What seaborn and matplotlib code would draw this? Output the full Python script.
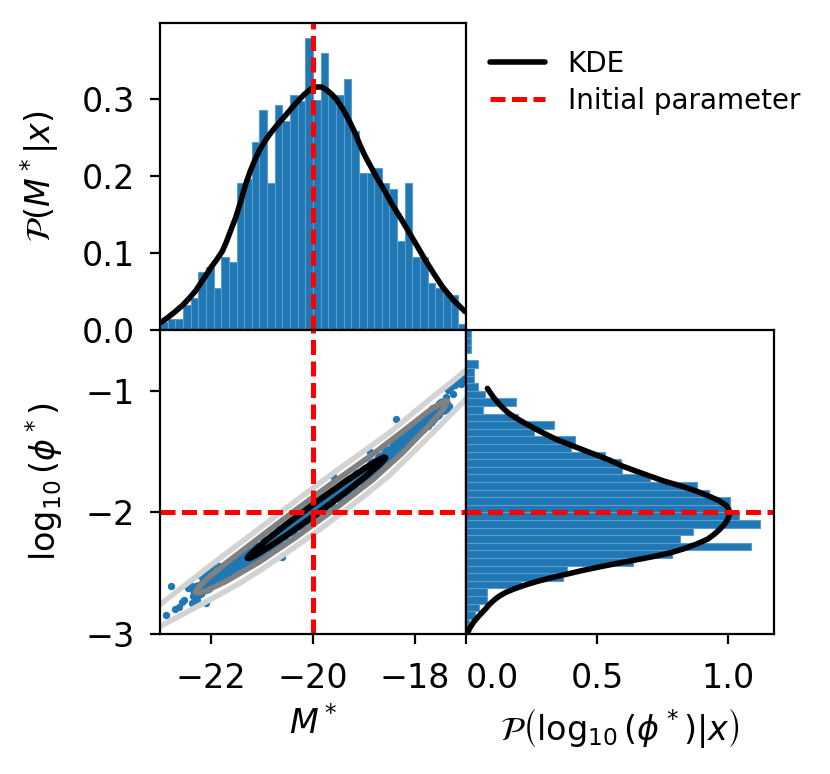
import matplotlib
matplotlib.use("Agg")
import matplotlib.pyplot as plt
from matplotlib.lines import Line2D
import numpy as np
import pandas as pd
import seaborn as sns

# --- marginal histogram of M* (density per bin, 40 bins from -23 to -17) ---
m_edges = np.linspace(-23.0, -17.0, 41)
m_hist = [0.010, 0.014, 0.014, 0.033, 0.042, 0.075, 0.082, 0.055, 0.095, 0.088,
          0.190, 0.196, 0.244, 0.285, 0.190, 0.292, 0.271, 0.305, 0.297, 0.379,
          0.298, 0.359, 0.305, 0.305, 0.325, 0.258, 0.203, 0.203, 0.210, 0.190,
          0.183, 0.116, 0.190, 0.095, 0.095, 0.061, 0.055, 0.048, 0.046, 0.008]

# --- marginal histogram of log10(phi*) (40 bins from -3 to -0.5) ---
phi_edges = np.linspace(-3.0, -0.5, 41)
phi_hist = [0.005, 0.012, 0.035, 0.050, 0.080, 0.080, 0.211, 0.370, 0.387, 0.639,
            0.785, 1.088, 0.817, 0.866, 1.120, 1.043, 1.000, 1.008, 0.928, 0.881,
            0.702, 0.594, 0.590, 0.530, 0.402, 0.415, 0.259, 0.336, 0.200, 0.064,
            0.192, 0.072, 0.047, 0.031, 0.031, 0.047, 0.000, 0.018, 0.018, 0.018]

# --- KDE curves ---
kde_m_x = [-22.98, -22.85, -22.70, -22.56, -22.43, -22.30, -22.20, -22.09, -21.98,
           -21.88, -21.78, -21.70, -21.62, -21.52, -21.42, -21.33, -21.23, -21.13,
           -21.05, -20.97, -20.89, -20.81, -20.70, -20.58, -20.49, -20.40, -20.28,
           -20.16, -20.05, -19.93, -19.83, -19.73, -19.64, -19.54, -19.41, -19.28,
           -19.18, -19.08, -18.99, -18.90, -18.76, -18.60, -18.45, -18.28, -18.11,
           -17.95, -17.80, -17.63, -17.46, -17.25, -17.02]
kde_m_y = [0.010, 0.016, 0.024, 0.032, 0.041, 0.051, 0.061, 0.072, 0.083,
           0.092, 0.102, 0.114, 0.128, 0.145, 0.166, 0.187, 0.206, 0.222,
           0.233, 0.242, 0.250, 0.257, 0.266, 0.275, 0.282, 0.289, 0.298,
           0.306, 0.312, 0.315, 0.315, 0.311, 0.306, 0.299, 0.286, 0.270,
           0.256, 0.240, 0.227, 0.216, 0.199, 0.181, 0.163, 0.145, 0.126,
           0.108, 0.091, 0.073, 0.056, 0.039, 0.024]

kde_phi_y = [-0.98, -1.01, -1.05, -1.09, -1.13, -1.18, -1.22, -1.26, -1.31, -1.35,
             -1.40, -1.44, -1.49, -1.53, -1.57, -1.62, -1.66, -1.70, -1.74, -1.78,
             -1.82, -1.86, -1.90, -1.94, -1.97, -2.00, -2.03, -2.06, -2.10, -2.14,
             -2.18, -2.22, -2.26, -2.30, -2.33, -2.36, -2.39, -2.42, -2.45, -2.48,
             -2.51, -2.54, -2.57, -2.60, -2.63, -2.66, -2.69, -2.72, -2.76, -2.80,
             -2.85, -2.90, -2.95, -3.00]
kde_phi_x = [0.082, 0.091, 0.104, 0.119, 0.136, 0.160, 0.188, 0.220, 0.262, 0.298,
             0.345, 0.392, 0.452, 0.500, 0.548, 0.598, 0.648, 0.700, 0.752, 0.815,
             0.873, 0.920, 0.962, 0.992, 1.002, 1.005, 1.003, 0.998, 0.985, 0.968,
             0.947, 0.922, 0.880, 0.830, 0.784, 0.722, 0.650, 0.575, 0.505, 0.440,
             0.380, 0.320, 0.268, 0.222, 0.183, 0.150, 0.126, 0.108, 0.088, 0.072,
             0.050, 0.030, 0.015, 0.004]

# --- samples: dense core of the band and sparse points at its ends ---
core_m = [-22.25, -22.10, -21.95, -21.80, -21.65, -21.50, -21.35, -21.20, -21.05,
          -20.90, -20.75, -20.60, -20.45, -20.30, -20.15, -20.00, -19.85, -19.70,
          -19.55, -19.40, -19.25, -19.10, -18.95, -18.80, -18.65, -18.50, -18.35,
          -18.20, -18.05, -17.90, -17.75, -17.60, -17.45]
core_phi = [-2.641, -2.600, -2.559, -2.518, -2.477, -2.435, -2.394, -2.351, -2.306,
            -2.261, -2.216, -2.171, -2.126, -2.081, -2.036, -1.990, -1.944, -1.897,
            -1.851, -1.804, -1.758, -1.711, -1.665, -1.618, -1.572, -1.520, -1.463,
            -1.406, -1.349, -1.292, -1.235, -1.178, -1.121]

edge_m = [-22.885, -22.775, -22.710, -22.625, -22.560, -22.527, -22.450, -22.411,
          -22.365, -22.346, -22.268, -22.203, -22.138, -22.105, -22.040, -21.975,
          -21.845, -21.618, -20.611, -17.102, -17.212, -17.297, -17.362, -17.264,
          -17.394, -17.329, -17.492, -17.524, -17.622, -17.752, -18.369, -18.889,
          -19.604, -17.040, -17.150, -17.080]
edge_phi = [-2.843, -2.609, -2.796, -2.780, -2.741, -2.719, -2.623, -2.595,
            -2.747, -2.691, -2.719, -2.526, -2.499, -2.747, -2.477, -2.444,
            -2.438, -2.430, -2.366, -0.942, -0.950, -0.970, -0.997, -1.025,
            -1.052, -1.121, -1.107, -1.176, -1.231, -1.287, -1.231, -1.507,
            -1.700, -0.873, -0.900, -0.915]

# --- KDE contour lines ---
outer_m = [-23.20, -22.98, -22.60, -22.20, -21.80, -21.40, -21.00, -20.50, -20.00,
           -19.50, -19.00, -18.50, -18.00, -17.60, -17.30, -17.02, -16.90,
           -16.90, -17.02, -17.30, -17.60, -18.00, -18.50, -19.00, -19.50, -20.00,
           -20.50, -21.00, -21.40, -21.80, -22.20, -22.60, -22.98, -23.20]
outer_phi = [-2.823, -2.752, -2.628, -2.498, -2.368, -2.243, -2.116, -1.956, -1.800,
             -1.645, -1.495, -1.345, -1.170, -1.033, -0.934, -0.837, -0.796,
             -1.026, -1.077, -1.194, -1.323, -1.490, -1.695, -1.865, -2.025, -2.180,
             -2.326, -2.466, -2.573, -2.668, -2.758, -2.848, -2.932, -2.983]

mid_m = [-22.300, -22.250, -22.100, -21.710, -21.065, -20.324, -19.583, -18.842,
         -18.251, -17.756, -17.508, -17.410, -17.360, -17.410, -17.508, -17.756,
         -18.251, -18.842, -19.583, -20.324, -21.065, -21.710, -22.100, -22.250,
         -22.300]
mid_phi = [-2.655, -2.618, -2.555, -2.418, -2.211, -1.975, -1.747, -1.526,
           -1.337, -1.175, -1.104, -1.081, -1.085, -1.127, -1.182, -1.299,
           -1.513, -1.736, -1.975, -2.201, -2.411, -2.568, -2.645, -2.664,
           -2.655]

inner_m = [-21.280, -21.253, -21.145, -20.875, -20.470, -19.930, -19.390, -18.985,
           -18.715, -18.607, -18.580, -18.607, -18.715, -18.985, -19.390, -19.930,
           -20.470, -20.875, -21.145, -21.253, -21.280]
inner_phi = [-2.375, -2.357, -2.312, -2.215, -2.082, -1.913, -1.752, -1.638,
             -1.569, -1.548, -1.550, -1.568, -1.613, -1.710, -1.844, -2.013,
             -2.174, -2.287, -2.356, -2.377, -2.375]

m_true = -20.0
phi_true = -2.0

sns.set_style("ticks", rc={"axes.edgecolor": "black", "xtick.color": "black",
                           "ytick.color": "black", "text.color": "black",
                           "axes.labelcolor": "black", "axes.linewidth": 1.0})
plt.rcParams["font.family"] = ["DejaVu Sans"]
plt.rcParams["font.size"] = 10
plt.rcParams["xtick.labelsize"] = 12
plt.rcParams["ytick.labelsize"] = 12
plt.rcParams["xtick.major.pad"] = 6.5
plt.rcParams["ytick.major.pad"] = 5.5
plt.rcParams["axes.labelsize"] = 12

blue = "#1f77b4"
dash_kw = dict(color="red", ls=(0, (3.0, 1.3)), lw=1.8)

fig = plt.figure(figsize=(4.15, 3.87), dpi=200)
ax_top = fig.add_axes([0.1928, 0.5736, 0.3686, 0.3967])
ax_main = fig.add_axes([0.1928, 0.1809, 0.3686, 0.3927])
ax_right = fig.add_axes([0.5614, 0.1809, 0.3711, 0.3927])

# top marginal
m_df = pd.DataFrame({"m": 0.5 * (m_edges[:-1] + m_edges[1:]), "w": m_hist})
sns.histplot(data=m_df, x="m", weights="w", bins=list(m_edges), ax=ax_top,
             color=blue, alpha=1, edgecolor="#5c9ccc", linewidth=0.4)
sns.lineplot(x=kde_m_x, y=kde_m_y, ax=ax_top, color="black", lw=2, sort=False,
             estimator=None)
ax_top.axvline(m_true, **dash_kw)
ax_top.set_xlim(-23, -17)
ax_top.set_ylim(0, 0.398)
ax_top.set_yticks([0.0, 0.1, 0.2, 0.3])
ax_top.set_xticks([])
ax_top.set_xlabel("")
ax_top.set_ylabel(r"$\mathcal{P}(M^*|x)$", labelpad=7.5)

# joint panel
sns.scatterplot(x=core_m, y=core_phi, ax=ax_main, color=blue, s=36, linewidth=0)
sns.scatterplot(x=edge_m, y=edge_phi, ax=ax_main, color=blue, s=7, linewidth=0)
ax_main.plot(outer_m, outer_phi, color="lightgray", lw=2)
ax_main.plot(mid_m, mid_phi, color="gray", lw=2)
ax_main.plot(inner_m, inner_phi, color="black", lw=2.2)
ax_main.axvline(m_true, **dash_kw)
ax_main.axhline(phi_true, **dash_kw)
ax_main.set_xlim(-23, -17)
ax_main.set_ylim(-3, -0.5)
ax_main.set_xticks([-22, -20, -18])
ax_main.set_yticks([-3, -2, -1])
ax_main.set_xlabel(r"$M^*$")
ax_main.set_ylabel(r"$\log_{10}(\phi^*)$", labelpad=7.5)

# right marginal
phi_df = pd.DataFrame({"phi": 0.5 * (phi_edges[:-1] + phi_edges[1:]), "w": phi_hist})
sns.histplot(data=phi_df, y="phi", weights="w", bins=list(phi_edges), ax=ax_right,
             color=blue, alpha=1, edgecolor="#5c9ccc", linewidth=0.4)
sns.lineplot(x=kde_phi_x, y=kde_phi_y, ax=ax_right, color="black", lw=2,
             sort=False, estimator=None)
ax_right.axhline(phi_true, **dash_kw)
ax_right.set_ylim(-3, -0.5)
ax_right.set_xlim(0, 1.175)
ax_right.set_xticks([0.0, 0.5, 1.0])
ax_right.set_xticklabels(["0.0", "0.5", "1.0"])
ax_right.get_xticklabels()[0].set_horizontalalignment("left")
ax_right.set_yticks([])
ax_right.set_ylabel("")
ax_right.set_xlabel(r"$\mathcal{P}\left(\log_{10}(\phi^*)|x\right)$")

handles = [Line2D([], [], color="black", lw=2, label="KDE"),
           Line2D([], [], label="Initial parameter", **dash_kw)]
fig.legend(handles=handles, loc="upper left", bbox_to_anchor=(0.560, 0.9675),
           frameon=False, fontsize=10, labelspacing=0.32)

fig.savefig("out.png", dpi=200)
